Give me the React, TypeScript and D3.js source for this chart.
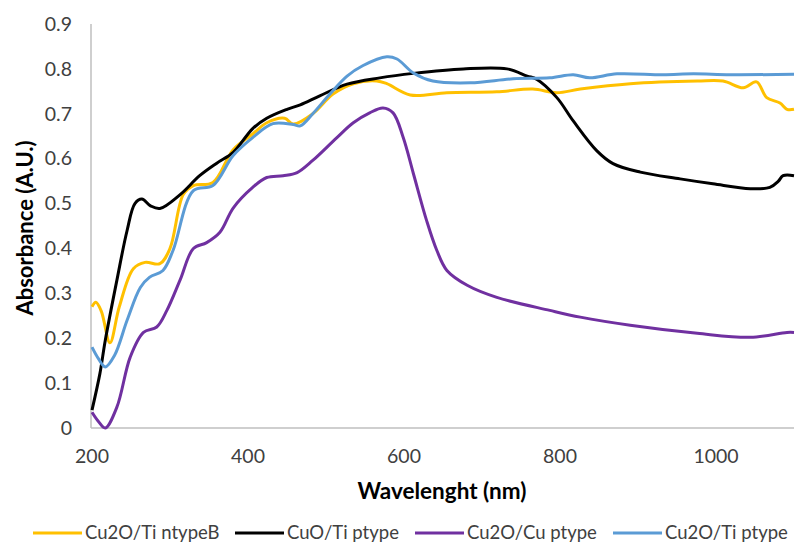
import { useEffect, useRef } from 'react';
import * as d3 from 'd3';

// Absorbance spectra (wavelength nm, absorbance A.U.)
const ntypeBWl = [200, 205, 212, 223, 235, 253, 268, 287, 300, 317, 330, 355, 381, 406, 424, 447, 458, 483, 509, 535, 565, 578, 608, 655, 719, 765, 796, 826, 890, 976, 1009, 1035, 1052, 1065, 1082, 1091, 1100];
const ntypeBAbs = [0.27, 0.28, 0.26, 0.19, 0.27, 0.355, 0.369, 0.366, 0.4, 0.52, 0.54, 0.547, 0.62, 0.655, 0.68, 0.69, 0.677, 0.7, 0.744, 0.767, 0.773, 0.767, 0.742, 0.747, 0.749, 0.755, 0.747, 0.755, 0.767, 0.773, 0.773, 0.758, 0.771, 0.736, 0.724, 0.71, 0.71];

const cuoWl = [200, 210, 217, 232, 245, 255, 264, 275, 287, 313, 338, 360, 381, 406, 424, 450, 467, 492, 527, 569, 612, 676, 732, 758, 770, 796, 817, 847, 868, 903, 954, 996, 1044, 1069, 1080, 1086, 1100];
const cuoAbs = [0.04, 0.12, 0.195, 0.33, 0.44, 0.5, 0.51, 0.495, 0.489, 0.52, 0.562, 0.59, 0.614, 0.667, 0.69, 0.71, 0.72, 0.74, 0.766, 0.78, 0.79, 0.8, 0.8, 0.784, 0.777, 0.736, 0.684, 0.618, 0.589, 0.57, 0.555, 0.544, 0.533, 0.536, 0.55, 0.562, 0.562];

const cuWl = [200, 208, 217, 232, 249, 266, 283, 296, 313, 330, 347, 364, 381, 406, 424, 445, 463, 483, 514, 535, 556, 573, 586, 599, 612, 629, 642, 655, 681, 719, 787, 826, 890, 976, 1044, 1091, 1100];
const cuAbs = [0.035, 0.015, 0.0, 0.047, 0.158, 0.213, 0.225, 0.262, 0.33, 0.4, 0.413, 0.436, 0.49, 0.536, 0.558, 0.562, 0.569, 0.596, 0.647, 0.68, 0.702, 0.713, 0.702, 0.647, 0.567, 0.462, 0.396, 0.351, 0.318, 0.291, 0.262, 0.247, 0.229, 0.211, 0.202, 0.213, 0.213];

const ptypeWl = [200, 208, 217, 229, 245, 262, 274, 291, 304, 330, 355, 381, 406, 432, 458, 467, 483, 505, 527, 547, 578, 591, 612, 637, 685, 740, 787, 817, 838, 873, 932, 971, 1018, 1100];
const ptypeAbs = [0.18, 0.155, 0.136, 0.162, 0.24, 0.313, 0.336, 0.351, 0.396, 0.529, 0.54, 0.607, 0.647, 0.678, 0.676, 0.673, 0.7, 0.744, 0.784, 0.807, 0.827, 0.822, 0.791, 0.773, 0.769, 0.778, 0.78, 0.787, 0.78, 0.789, 0.787, 0.789, 0.787, 0.788];

const seriesNames = ['Cu2O/Ti ntypeB', 'CuO/Ti ptype', 'Cu2O/Cu ptype', 'Cu2O/Ti ptype'];
const seriesColors = ['#FFC000', '#000000', '#7030A0', '#5B9BD5'];
const xTicks = [200, 400, 600, 800, 1000];
const yTicks = [0, 0.1, 0.2, 0.3, 0.4, 0.5, 0.6, 0.7, 0.8, 0.9];

const App = () => {
  const svgRef = useRef<SVGSVGElement>(null);

  useEffect(() => {
    const width = 798;
    const height = 545;
    const margin = { top: 24, right: 4, bottom: 117, left: 92 };
    const font = 'Lato, "Open Sans", sans-serif';

    const svg = d3.select(svgRef.current)
      .attr('width', width)
      .attr('height', height)
      .style('background-color', '#ffffff');

    svg.selectAll('*').remove();

    const xScale = d3.scaleLinear()
      .domain([200, 1100])
      .range([margin.left, width - margin.right]);

    const yScale = d3.scaleLinear()
      .domain([0, 0.9])
      .range([height - margin.bottom, margin.top]);

    // Axis lines (no ticks, no gridlines)
    svg.append('line')
      .attr('x1', margin.left - 1).attr('x2', margin.left - 1)
      .attr('y1', yScale(0.9)).attr('y2', yScale(0))
      .attr('stroke', '#bfbfbf').attr('stroke-width', 1.5);
    svg.append('line')
      .attr('x1', margin.left - 1).attr('x2', width - margin.right)
      .attr('y1', yScale(0)).attr('y2', yScale(0))
      .attr('stroke', '#bfbfbf').attr('stroke-width', 1.5);

    // Tick labels
    svg.append('g').selectAll('text')
      .data(yTicks)
      .enter()
      .append('text')
      .attr('x', 72)
      .attr('y', d => yScale(d))
      .attr('dy', '0.35em')
      .attr('text-anchor', 'end')
      .style('font-family', font)
      .style('font-size', '19.5px')
      .style('fill', '#404040')
      .text(d => d3.format('.1~f')(d));

    svg.append('g').selectAll('text')
      .data(xTicks)
      .enter()
      .append('text')
      .attr('x', d => xScale(d))
      .attr('y', 463)
      .attr('text-anchor', 'middle')
      .style('font-family', font)
      .style('font-size', '19.5px')
      .style('fill', '#404040')
      .text(d => d);

    // Lines
    const all = [
      { wl: ntypeBWl, abs: ntypeBAbs },
      { wl: cuoWl, abs: cuoAbs },
      { wl: cuWl, abs: cuAbs },
      { wl: ptypeWl, abs: ptypeAbs },
    ];
    const line = d3.line<[number, number]>()
      .x(d => xScale(d[0]))
      .y(d => yScale(d[1]))
      .curve(d3.curveCatmullRom.alpha(0.5));

    all.forEach((s, i) => {
      const pts = s.wl.map((w, j) => [w, s.abs[j]] as [number, number]);
      svg.append('path')
        .datum(pts)
        .attr('d', line)
        .attr('fill', 'none')
        .attr('stroke', seriesColors[i])
        .attr('stroke-width', 3)
        .attr('stroke-linejoin', 'round');
    });

    // Axis titles
    svg.append('text')
      .attr('x', 442)
      .attr('y', 499)
      .attr('text-anchor', 'middle')
      .style('font-family', font)
      .style('font-size', '22.5px')
      .style('font-weight', 'bold')
      .text('Wavelenght (nm)');

    svg.append('text')
      .attr('text-anchor', 'middle')
      .attr('transform', `translate(33,${228})rotate(-90)`)
      .style('font-family', font)
      .style('font-size', '22px')
      .style('font-weight', 'bold')
      .text('Absorbance (A.U.)');

    // Legend
    const legendX = [33, 235, 415, 613];
    const legend = svg.append('g');
    seriesNames.forEach((name, i) => {
      legend.append('line')
        .attr('x1', legendX[i]).attr('x2', legendX[i] + 49)
        .attr('y1', 533).attr('y2', 533)
        .attr('stroke', seriesColors[i])
        .attr('stroke-width', 3);
      legend.append('text')
        .attr('x', legendX[i] + 52)
        .attr('y', 533)
        .attr('dy', '0.35em')
        .style('font-family', font)
        .style('font-size', '18.5px')
        .style('fill', '#404040')
        .text(name);
    });
  }, []);

  return <svg ref={svgRef} style={{ position: 'absolute', left: 0, top: 0, display: 'block' }}></svg>;
};

export default App;
